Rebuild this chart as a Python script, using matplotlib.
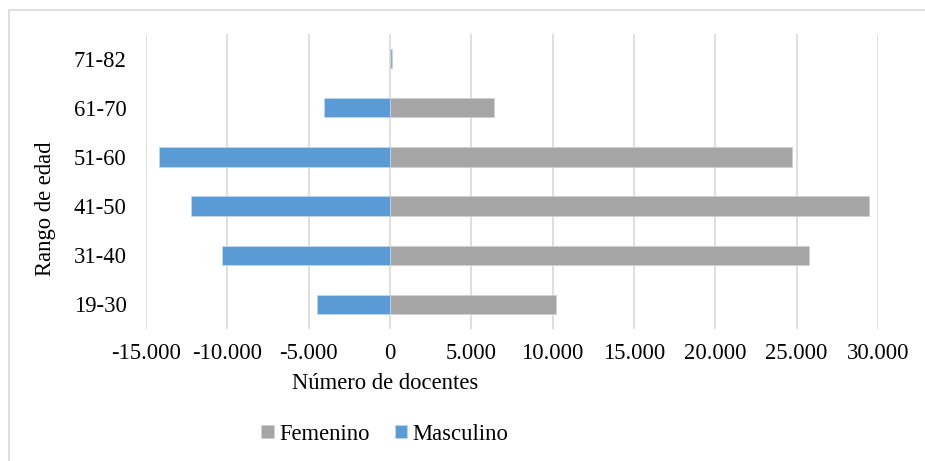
import matplotlib.pyplot as plt
from matplotlib.patches import Rectangle
from matplotlib.ticker import FuncFormatter, MultipleLocator

# Docentes por rango de edad y sexo (masculino en negativo)
rangos = ["19-30", "31-40", "41-50", "51-60", "61-70", "71-82"]
femenino = [10190, 25770, 29470, 24700, 6400, 130]
masculino = [-4490, -10340, -12220, -14210, -4070, -30]

color_fem = "#A5A5A5"
color_mas = "#5B9BD5"
color_grid = "#D9D9D9"

plt.rcParams["font.family"] = ["Liberation Serif", "DejaVu Serif"]
plt.rcParams["font.size"] = 16.3

W, H = 925, 461
fig = plt.figure(figsize=(W / 100, H / 100), dpi=100)
ax = fig.add_axes([146 / W, 1 - 329 / H, (878 - 146) / W, (329 - 34) / H])

pos = range(len(rangos))
alto = 0.39
ax.barh(pos, femenino, height=alto, color=color_fem, edgecolor="#D0D0D0",
        linewidth=0.6, label="Femenino", zorder=3)
ax.barh(pos, masculino, height=alto, color=color_mas, edgecolor="#BDD7EE",
        linewidth=0.6, label="Masculino", zorder=3)

ax.set_xlim(-15000, 30000)
ax.set_ylim(-0.5, len(rangos) - 0.5)
ax.set_yticks(list(pos))
ax.set_yticklabels(rangos)
ax.xaxis.set_major_locator(MultipleLocator(5000))
ax.xaxis.set_major_formatter(FuncFormatter(lambda v, _: f"{int(v):,}".replace(",", ".")))
ax.grid(axis="x", color=color_grid, linewidth=1.2, zorder=0)
ax.tick_params(axis="both", length=0, colors="black")
ax.tick_params(axis="x", pad=10)
ax.tick_params(axis="y", pad=14)
for side in ["top", "left", "bottom", "right"]:
    ax.spines[side].set_visible(False)

fig.text(385 / W, 1 - 383 / H, "Número de docentes", ha="center", va="center")
fig.text(46 / W, 1 - 209 / H, "Rango de edad", ha="center", va="center", rotation=90)

handles, labels = ax.get_legend_handles_labels()
fig.legend(handles, labels, loc="center", bbox_to_anchor=(385 / W, 1 - 434 / H),
           ncol=2, frameon=False, handlelength=0.55, handleheight=0.55,
           handletextpad=0.25, columnspacing=1.1, borderpad=0)

# marco del área del gráfico
fig.patches.append(Rectangle((9 / W, -0.1), 1.2, 1 - 10 / H + 0.1,
                             transform=fig.transFigure, fill=False,
                             edgecolor=color_grid, linewidth=1.2))

fig.savefig("out.png", dpi=100)
